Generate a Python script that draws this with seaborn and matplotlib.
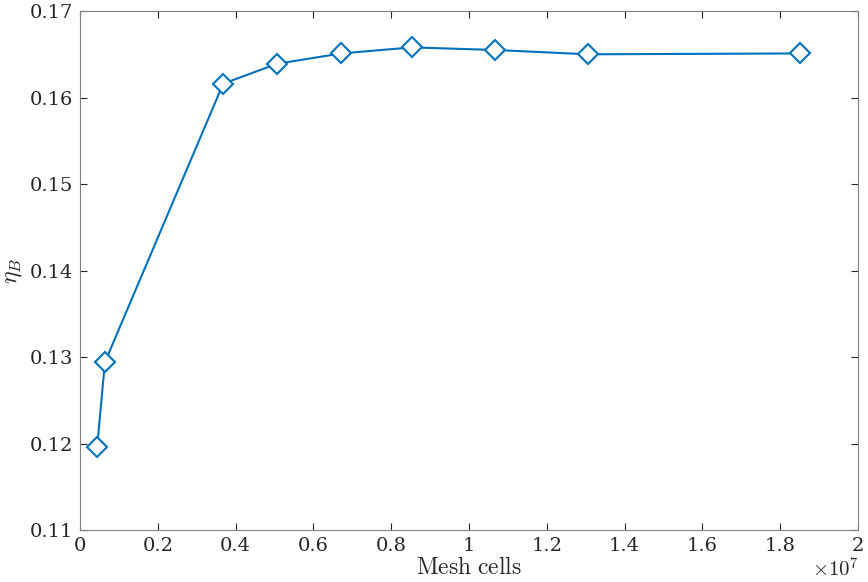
import matplotlib
matplotlib.use("Agg")
import matplotlib.pyplot as plt
import matplotlib.ticker as mticker
import seaborn as sns
import pandas as pd

mesh_cells = [0.044e7, 0.064e7, 0.368e7, 0.506e7, 0.671e7, 0.853e7, 1.067e7, 1.306e7, 1.851e7]
eta_b = [0.1196, 0.1294, 0.1616, 0.1639, 0.1651, 0.1658, 0.1655, 0.1650, 0.1651]

df = pd.DataFrame({"cells": mesh_cells, "eta": eta_b})

sns.set_style("white")
plt.rcParams['font.family'] = ['DejaVu Serif']
plt.rcParams['mathtext.fontset'] = 'cm'

fig = plt.figure(figsize=(8.68, 5.82), dpi=100)
ax = fig.add_axes([0.0922, 0.0893, 0.8963, 0.8917])

sns.lineplot(data=df, x="cells", y="eta", ax=ax, color="#0072BD", linewidth=1.5,
             marker="D", markersize=10, markerfacecolor="white",
             markeredgecolor="#0072BD", markeredgewidth=1.5)

ax.set_xlim(0, 2e7)
ax.set_ylim(0.11, 0.17)
ax.set_xticks([i * 0.2e7 for i in range(11)])
ax.set_yticks([0.11, 0.12, 0.13, 0.14, 0.15, 0.16, 0.17])
ax.xaxis.set_major_formatter(mticker.FuncFormatter(lambda v, p: f"{v/1e7:g}"))
ax.yaxis.set_major_formatter(mticker.FuncFormatter(lambda v, p: f"{v:.2f}"))

for sp in ax.spines.values():
    sp.set_color("#808080")
    sp.set_linewidth(0.8)
ax.tick_params(direction="in", length=5, width=0.8, color="#262626",
               labelsize=14, labelcolor="#262626", top=True, right=True,
               bottom=True, left=True, pad=5)

ax.annotate(r"$\times10^7$", xy=(1.0, 0.0), xycoords="axes fraction",
            xytext=(-16, -28), textcoords="offset points", ha="center", va="center",
            fontsize=15, color="#262626")

ax.set_xlabel(r"$\mathrm{Mesh\ cells}$", fontsize=17, color="#262626", labelpad=1)
ax.set_ylabel(r"$\eta_B$", fontsize=17, color="#262626", labelpad=4)

fig.savefig("out.png", dpi=100)
